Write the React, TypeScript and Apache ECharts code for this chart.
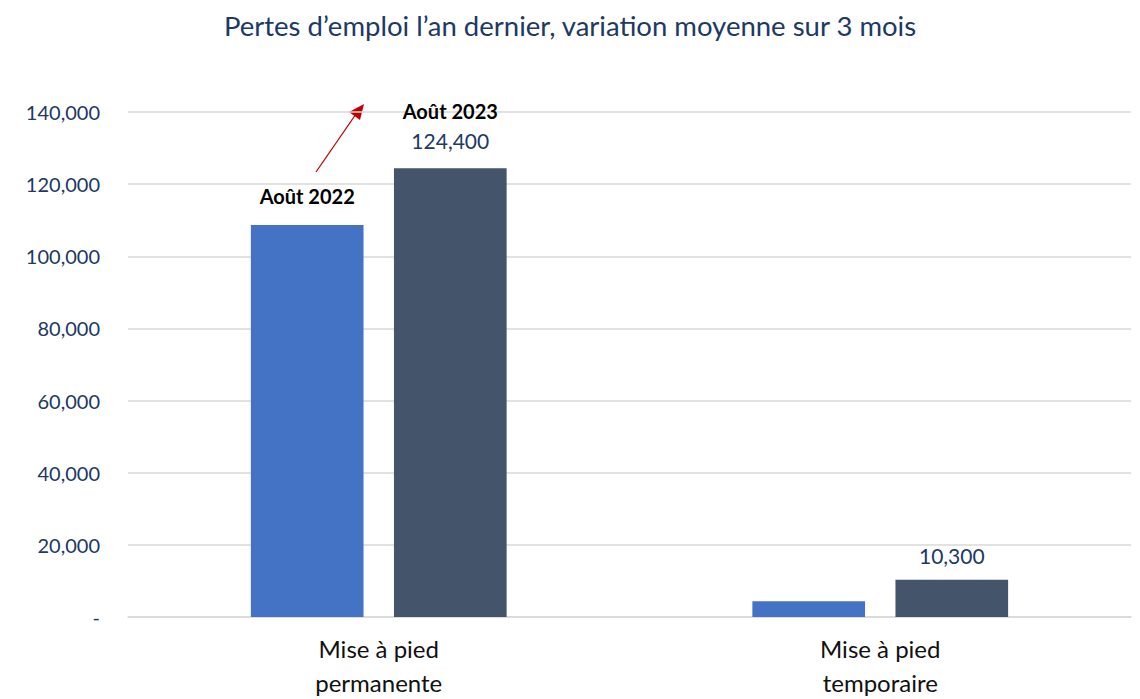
import React, { useEffect, useRef } from "react";
import * as echarts from "echarts";

const categories = ["Mise à pied\npermanente", "Mise à pied\ntemporaire"];
const seriesNames = ["Août 2022", "Août 2023"];
const values2022 = [108700, 4400];
const values2023 = [124400, 10300];
const yTicks = { min: 0, max: 140000, interval: 20000 };
const title = "Pertes d’emploi l’an dernier, variation moyenne sur 3 mois";

const NAVY = "#203864";
const FONT = "Lato, 'Noto Sans', sans-serif";

export default function App() {
  const ref = useRef<HTMLDivElement>(null);
  useEffect(() => {
    if (!ref.current) return;
    const chart = echarts.init(ref.current, undefined, { renderer: "svg" });
    const fmt = (v: number) => (v === 0 ? "-" : v.toLocaleString("en-US"));
    chart.setOption({
      animation: false,
      textStyle: { fontFamily: FONT },
      title: {
        text: title,
        left: "center",
        top: 6,
        textStyle: { color: NAVY, fontSize: 27.5, fontWeight: "normal", fontFamily: FONT },
      },
      grid: { left: 128, right: 9, top: 112, bottom: 82, outerBoundsMode: "none", containLabel: false },
      xAxis: {
        type: "category",
        data: categories,
        axisLine: { show: true, lineStyle: { color: "#D9D9D9", width: 1.5 } },
        axisTick: { show: false },
        axisLabel: { color: "#111", fontSize: 24, lineHeight: 34, margin: 14, fontFamily: FONT },
      },
      yAxis: {
        type: "value",
        min: yTicks.min,
        max: yTicks.max,
        interval: yTicks.interval,
        axisLine: { show: false },
        axisTick: { show: false },
        splitLine: { lineStyle: { color: "#D9D9D9", width: 1.5 } },
        axisLabel: { color: NAVY, fontSize: 20, margin: 28, formatter: fmt, fontFamily: FONT },
      },
      series: [
        {
          name: seriesNames[0],
          type: "bar",
          data: values2022.map((v, i) =>
            i === 0
              ? {
                  value: v,
                  label: {
                    show: true,
                    position: "top",
                    distance: 19,
                    formatter: seriesNames[0],
                    color: "#000",
                    fontWeight: "bold",
                    fontSize: 20,
                    fontFamily: FONT,
                  },
                }
              : { value: v }
          ),
          itemStyle: { color: "#4472C4" },
          barGap: "27%",
          barCategoryGap: "49%",
        },
        {
          name: seriesNames[1],
          type: "bar",
          data: values2023.map((v, i) =>
            i === 0
              ? {
                  value: v,
                  label: {
                    show: true,
                    position: "top",
                    distance: 14,
                    formatter: "{b|" + seriesNames[1] + "}\n{v|" + fmt(v) + "}",
                    rich: {
                      b: { color: "#000", fontWeight: "bold", fontSize: 20, lineHeight: 30, fontFamily: FONT },
                      v: { color: NAVY, fontSize: 21, lineHeight: 28, fontFamily: FONT },
                    },
                  },
                }
              : {
                  value: v,
                  label: {
                    show: true,
                    position: "top",
                    distance: 14,
                    formatter: fmt(v),
                    color: NAVY,
                    fontSize: 21,
                    fontFamily: FONT,
                  },
                }
          ),
          itemStyle: { color: "#44546A" },
        },
      ],
      graphic: [
        {
          type: "line",
          shape: { x1: 316, y1: 172, x2: 356, y2: 114 },
          style: { stroke: "#C00000", lineWidth: 1.3 },
        },
        {
          type: "polygon",
          shape: { points: [[364, 104], [349, 112], [360, 120]] },
          style: { fill: "#C00000" },
        },
      ],
    });
    return () => chart.dispose();
  }, []);
  return (
    <div
      ref={ref}
      style={{ position: "fixed", left: 0, top: 0, width: 1140, height: 699, background: "#fff" }}
    />
  );
}
